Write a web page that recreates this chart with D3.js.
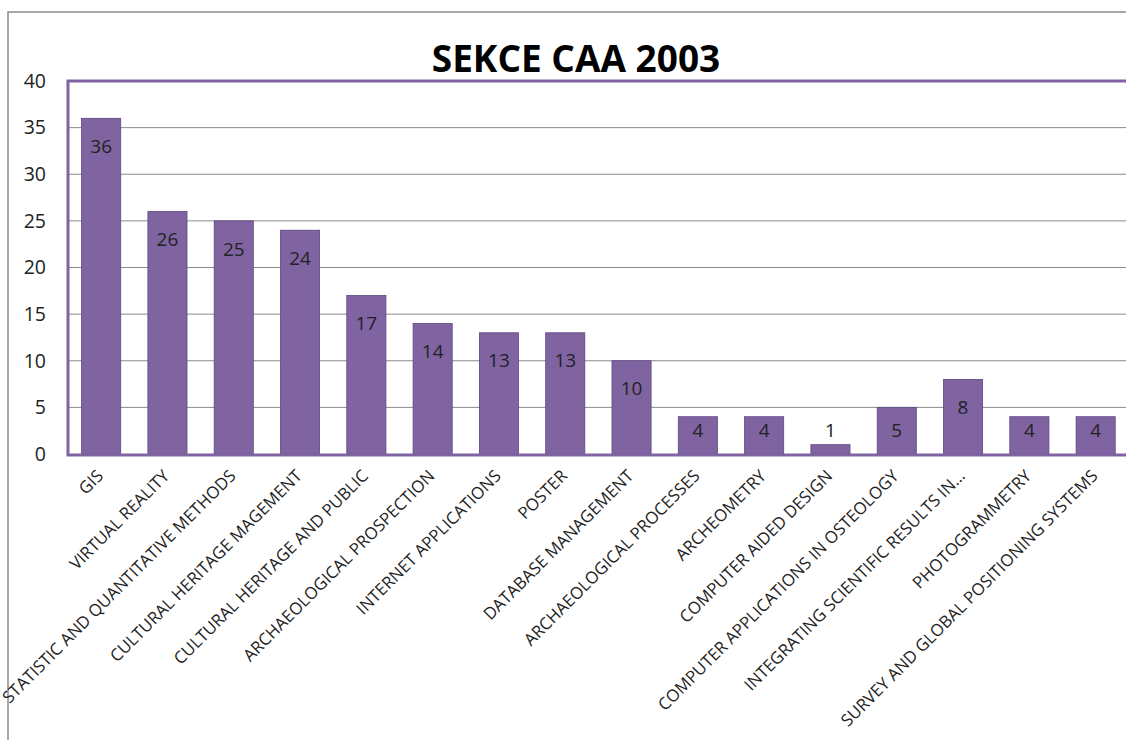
<!DOCTYPE html>
<html>
<head>
<meta charset="utf-8">
<script src="https://cdn.jsdelivr.net/npm/d3@7"></script>
<style>
  body { margin: 0; background: #fff; }
  svg { display: block; font-family: "Open Sans", "Noto Sans", sans-serif; }
</style>
</head>
<body>
<svg id="chart" width="1126" height="740"></svg>
<script>
// ── Data ──────────────────────────────────────────────────────────────────────
const categories = [
  "GIS", "VIRTUAL REALITY", "STATISTIC AND QUANTITATIVE METHODS",
  "CULTURAL HERITAGE MAGEMENT", "CULTURAL HERITAGE AND PUBLIC",
  "ARCHAEOLOGICAL PROSPECTION", "INTERNET APPLICATIONS", "POSTER",
  "DATABASE MANAGEMENT", "ARCHAEOLOGICAL PROCESSES", "ARCHEOMETRY",
  "COMPUTER AIDED DESIGN", "COMPUTER APPLICATIONS IN OSTEOLOGY",
  "INTEGRATING SCIENTIFIC RESULTS IN…", "PHOTOGRAMMETRY",
  "SURVEY AND GLOBAL POSITIONING SYSTEMS"
];
const values = [36, 26, 25, 24, 17, 14, 13, 13, 10, 4, 4, 1, 5, 8, 4, 4];
const yTicks = [0, 5, 10, 15, 20, 25, 30, 35, 40];
const chartTitle = "SEKCE CAA 2003";

const PURPLE = "#8064a2";

// ── Layout ────────────────────────────────────────────────────────────────────
const svg = d3.select("#chart");
const plotLeft = 68, plotTop = 81, plotBottom = 454;
const step = 66.3;
const plotRight = plotLeft + step * categories.length;

const x = d3.scaleBand().domain(categories).range([plotLeft, plotRight])
  .paddingInner(0.41).paddingOuter(0.205);
const y = d3.scaleLinear().domain([0, 40]).range([plotBottom, plotTop]);

// outer chart border
svg.append("path").attr("d", `M8,740 V12 H1126`)
  .attr("fill", "none").attr("stroke", "#8c8c8c").attr("stroke-width", 1.5);

// title
svg.append("text").attr("x", 576).attr("y", 72).attr("text-anchor", "middle")
  .attr("font-size", 37).attr("font-weight", "bold").attr("fill", "#000")
  .text(chartTitle);

// gridlines
svg.append("g").selectAll("line").data(yTicks.filter(t => t > 0 && t < 40)).join("line")
  .attr("x1", plotLeft).attr("x2", 1126)
  .attr("y1", d => y(d)).attr("y2", d => y(d))
  .attr("stroke", "#8a8a8a").attr("stroke-width", 1);

// y axis labels
const yAxis = d3.axisLeft(y).tickValues(yTicks).tickSize(0).tickPadding(22);
svg.append("g").attr("transform", `translate(${plotLeft},0)`).call(yAxis)
  .call(g => g.select(".domain").remove())
  .call(g => g.selectAll("text").attr("font-size", 19.5).attr("fill", "#222")
    .attr("font-family", "'Open Sans', sans-serif"));

// bars
svg.append("g").selectAll("rect").data(values).join("rect")
  .attr("x", (d, i) => x(categories[i]))
  .attr("y", d => y(d))
  .attr("width", x.bandwidth())
  .attr("height", d => plotBottom - y(d))
  .attr("fill", PURPLE).attr("stroke", "#5c4780").attr("stroke-width", 0.8);

// value labels
svg.append("g").selectAll("text").data(values).join("text")
  .attr("x", (d, i) => x(categories[i]) + x.bandwidth() / 2)
  .attr("y", d => Math.min(y(d) + 28, 430))
  .attr("dy", "0.35em")
  .attr("text-anchor", "middle").attr("font-size", 19).attr("fill", "#222")
  .text(d => d);

// plot area border (purple)
svg.append("path").attr("d", `M1126,${plotTop} H${plotLeft} V${plotBottom + 1} H1126`)
  .attr("fill", "none").attr("stroke", PURPLE).attr("stroke-width", 3);

// x axis labels, rotated
const xAxis = d3.axisBottom(x).tickSize(0).tickPadding(0);
svg.append("g").attr("transform", `translate(0,${plotBottom})`).call(xAxis)
  .call(g => g.select(".domain").remove())
  .call(g => g.selectAll("text")
    .attr("font-size", 16.8).attr("fill", "#222")
    .attr("font-family", "'Open Sans', sans-serif")
    .attr("text-anchor", "end")
    .attr("dy", null).attr("y", 0)
    .attr("transform", "translate(3,23) rotate(-45)"));
</script>
</body>
</html>
